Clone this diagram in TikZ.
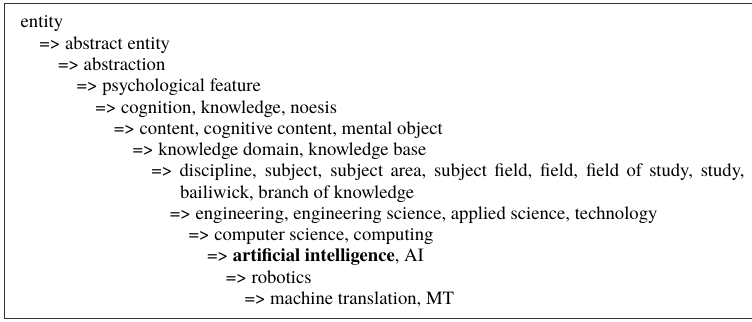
\documentclass[tikz,border=0pt]{standalone}
\usepackage{fontspec}
\setmainfont{texgyretermes}[Extension=.otf,UprightFont=*-regular,BoldFont=*-bold,ItalicFont=*-italic,BoldItalicFont=*-bolditalic]
\begin{document}
\begin{tikzpicture}[x=0.75pt,y=-0.75pt,
  entry/.style={anchor=base west,inner sep=0pt,outer sep=0pt,
    font=\fontsize{14pt}{16pt}\selectfont},
  frameline/.style={draw=black!80,line width=0.9pt}]
\useasboundingbox (0,0) rectangle (752,321);
% open-ended frame (continues past the right edge)
\draw[frameline] (760,3.8) -- (4.6,3.8) -- (4.6,318.4) -- (760,318.4);
% hypernym chain, one line per level
\def\lx#1{20.7+18.65*#1}
\def\ly#1{28+21.25*#1}
\node[entry] (n0)  at ({\lx{0}},{\ly{0}})   {entity};
\node[entry] (n1)  at ({\lx{1}},{\ly{1}})   {=> abstract entity};
\node[entry] (n2)  at ({\lx{2}},{\ly{2}})   {=> abstraction};
\node[entry] (n3)  at ({\lx{3}},{\ly{3}})   {=> psychological feature};
\node[entry] (n4)  at ({\lx{4}},{\ly{4}})   {=> cognition, knowledge, noesis};
\node[entry] (n5)  at ({\lx{5}},{\ly{5}})   {=> content, cognitive content, mental object};
\node[entry] (n6)  at ({\lx{6}},{\ly{6}})   {=> knowledge domain, knowledge base};
\node[entry] (n7)  at ({\lx{7}},{\ly{7}})   {\makebox[445pt][s]{=> discipline, subject, subject area, subject field, field, field of study, study,}};
\node[entry] (n7b) at ({\lx{7}+28.8},{\ly{8}}) {bailiwick, branch of knowledge};
\node[entry] (n8)  at ({\lx{8}},{\ly{9}})  {=> engineering, engineering science, applied science, technology};
\node[entry] (n9)  at ({\lx{9}},{\ly{10}}) {=> computer science, computing};
\node[entry] (n10) at ({\lx{10}},{\ly{11}}) {=> \textbf{artificial intelligence}, AI};
\node[entry] (n11) at ({\lx{11}},{\ly{12}}) {=> robotics};
\node[entry] (n12) at ({\lx{12}},{\ly{13}}) {=> machine translation, MT};
\end{tikzpicture}
\end{document}
